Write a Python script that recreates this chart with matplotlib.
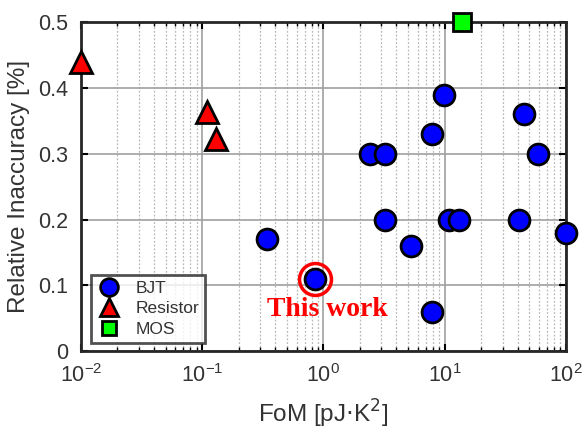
import matplotlib
matplotlib.use("Agg")
import matplotlib.pyplot as plt
from matplotlib.ticker import LogLocator, NullFormatter, FixedLocator

plt.rcParams['font.family'] = ['Liberation Sans', 'DejaVu Sans']

# Data
bjt_fom = [0.34, 0.85, 2.42, 3.23, 3.23, 5.3, 7.8, 7.8, 9.9, 10.9, 13.2, 41, 45, 58.8, 100]
bjt_err = [0.17, 0.11, 0.30, 0.30, 0.20, 0.16, 0.33, 0.06, 0.39, 0.20, 0.20, 0.20, 0.36, 0.30, 0.18]
res_fom = [0.01, 0.109, 0.129]
res_err = [0.44, 0.363, 0.323]
mos_fom = [14.0]
mos_err = [0.50]
this_fom = 0.85
this_err = 0.11
yticks = [0, 0.1, 0.2, 0.3, 0.4, 0.5]
ytick_labels = ['0', '0.1', '0.2', '0.3', '0.4', '0.5']

fig = plt.figure(figsize=(5.84, 4.34), dpi=100)
ax = fig.add_axes([0.1387, 0.1905, 0.8303, 0.7585])
ax.set_xscale('log')
ax.set_xlim(1e-2, 1e2)
ax.set_ylim(0, 0.5)

ax.grid(True, which='major', color='#a0a0a0', linewidth=1.2, linestyle='-', zorder=0)
ax.grid(True, which='minor', axis='x', color='#b8b8b8', linewidth=0.9, linestyle=(0, (1.5, 1.5)), zorder=0)
ax.set_axisbelow(True)

ax.plot(bjt_fom, bjt_err, 'o', ms=15, mfc='#0000ff', mec='black', mew=2, label='BJT', clip_on=False, zorder=3)
ax.plot(res_fom, res_err, '^', ms=16, mfc='#ff0000', mec='black', mew=2, label='Resistor', clip_on=False, zorder=3)
ax.plot(mos_fom, mos_err, 's', ms=13, mfc='#00ff00', mec='black', mew=2, label='MOS', clip_on=False, zorder=3)
ax.plot([this_fom], [this_err], 'o', ms=23, mfc='none', mec='#ff0000', mew=2.5, clip_on=False, zorder=4)
ax.text(1.08, 0.063, 'This work', color='#ff0000', fontsize=20, fontweight='bold',
        family=['Liberation Serif', 'DejaVu Serif'], ha='center', va='center', zorder=5)

ax.set_yticks(yticks)
ax.set_yticklabels(ytick_labels)
ax.xaxis.set_major_locator(FixedLocator([1e-2, 1e-1, 1e0, 1e1, 1e2]))
ax.xaxis.set_minor_locator(LogLocator(base=10, subs=range(2, 10)))
ax.xaxis.set_minor_formatter(NullFormatter())
ax.tick_params(which='both', direction='in', top=True, right=True, labelsize=15.5, colors='black')
ax.tick_params(which='major', length=5, width=1.5, pad=9)
ax.tick_params(which='minor', length=3, width=1)
for t in ax.get_xticklabels() + ax.get_yticklabels():
    t.set_color('#333333')
for s in ax.spines.values():
    s.set_linewidth(2)
    s.set_color('#262626')

ax.set_xlabel('FoM [pJ$\\cdot$K$^2$]', fontsize=17.5, color='#333333', labelpad=8)
ax.set_ylabel('Relative Inaccuracy [%]', fontsize=17.5, color='#333333', labelpad=6)

leg = ax.legend(loc='lower left', bbox_to_anchor=(0.014, 0.015), fontsize=12.5, frameon=True,
                fancybox=False, edgecolor='#262626', markerscale=0.85, handlelength=1.3,
                borderpad=0.35, labelspacing=0.3, handletextpad=0.9, borderaxespad=0.2)
leg.get_frame().set_linewidth(2)
leg.legend_handles[2].set_markersize(10)
for t in leg.get_texts():
    t.set_color('#333333')

fig.savefig('out.png', dpi=100)
